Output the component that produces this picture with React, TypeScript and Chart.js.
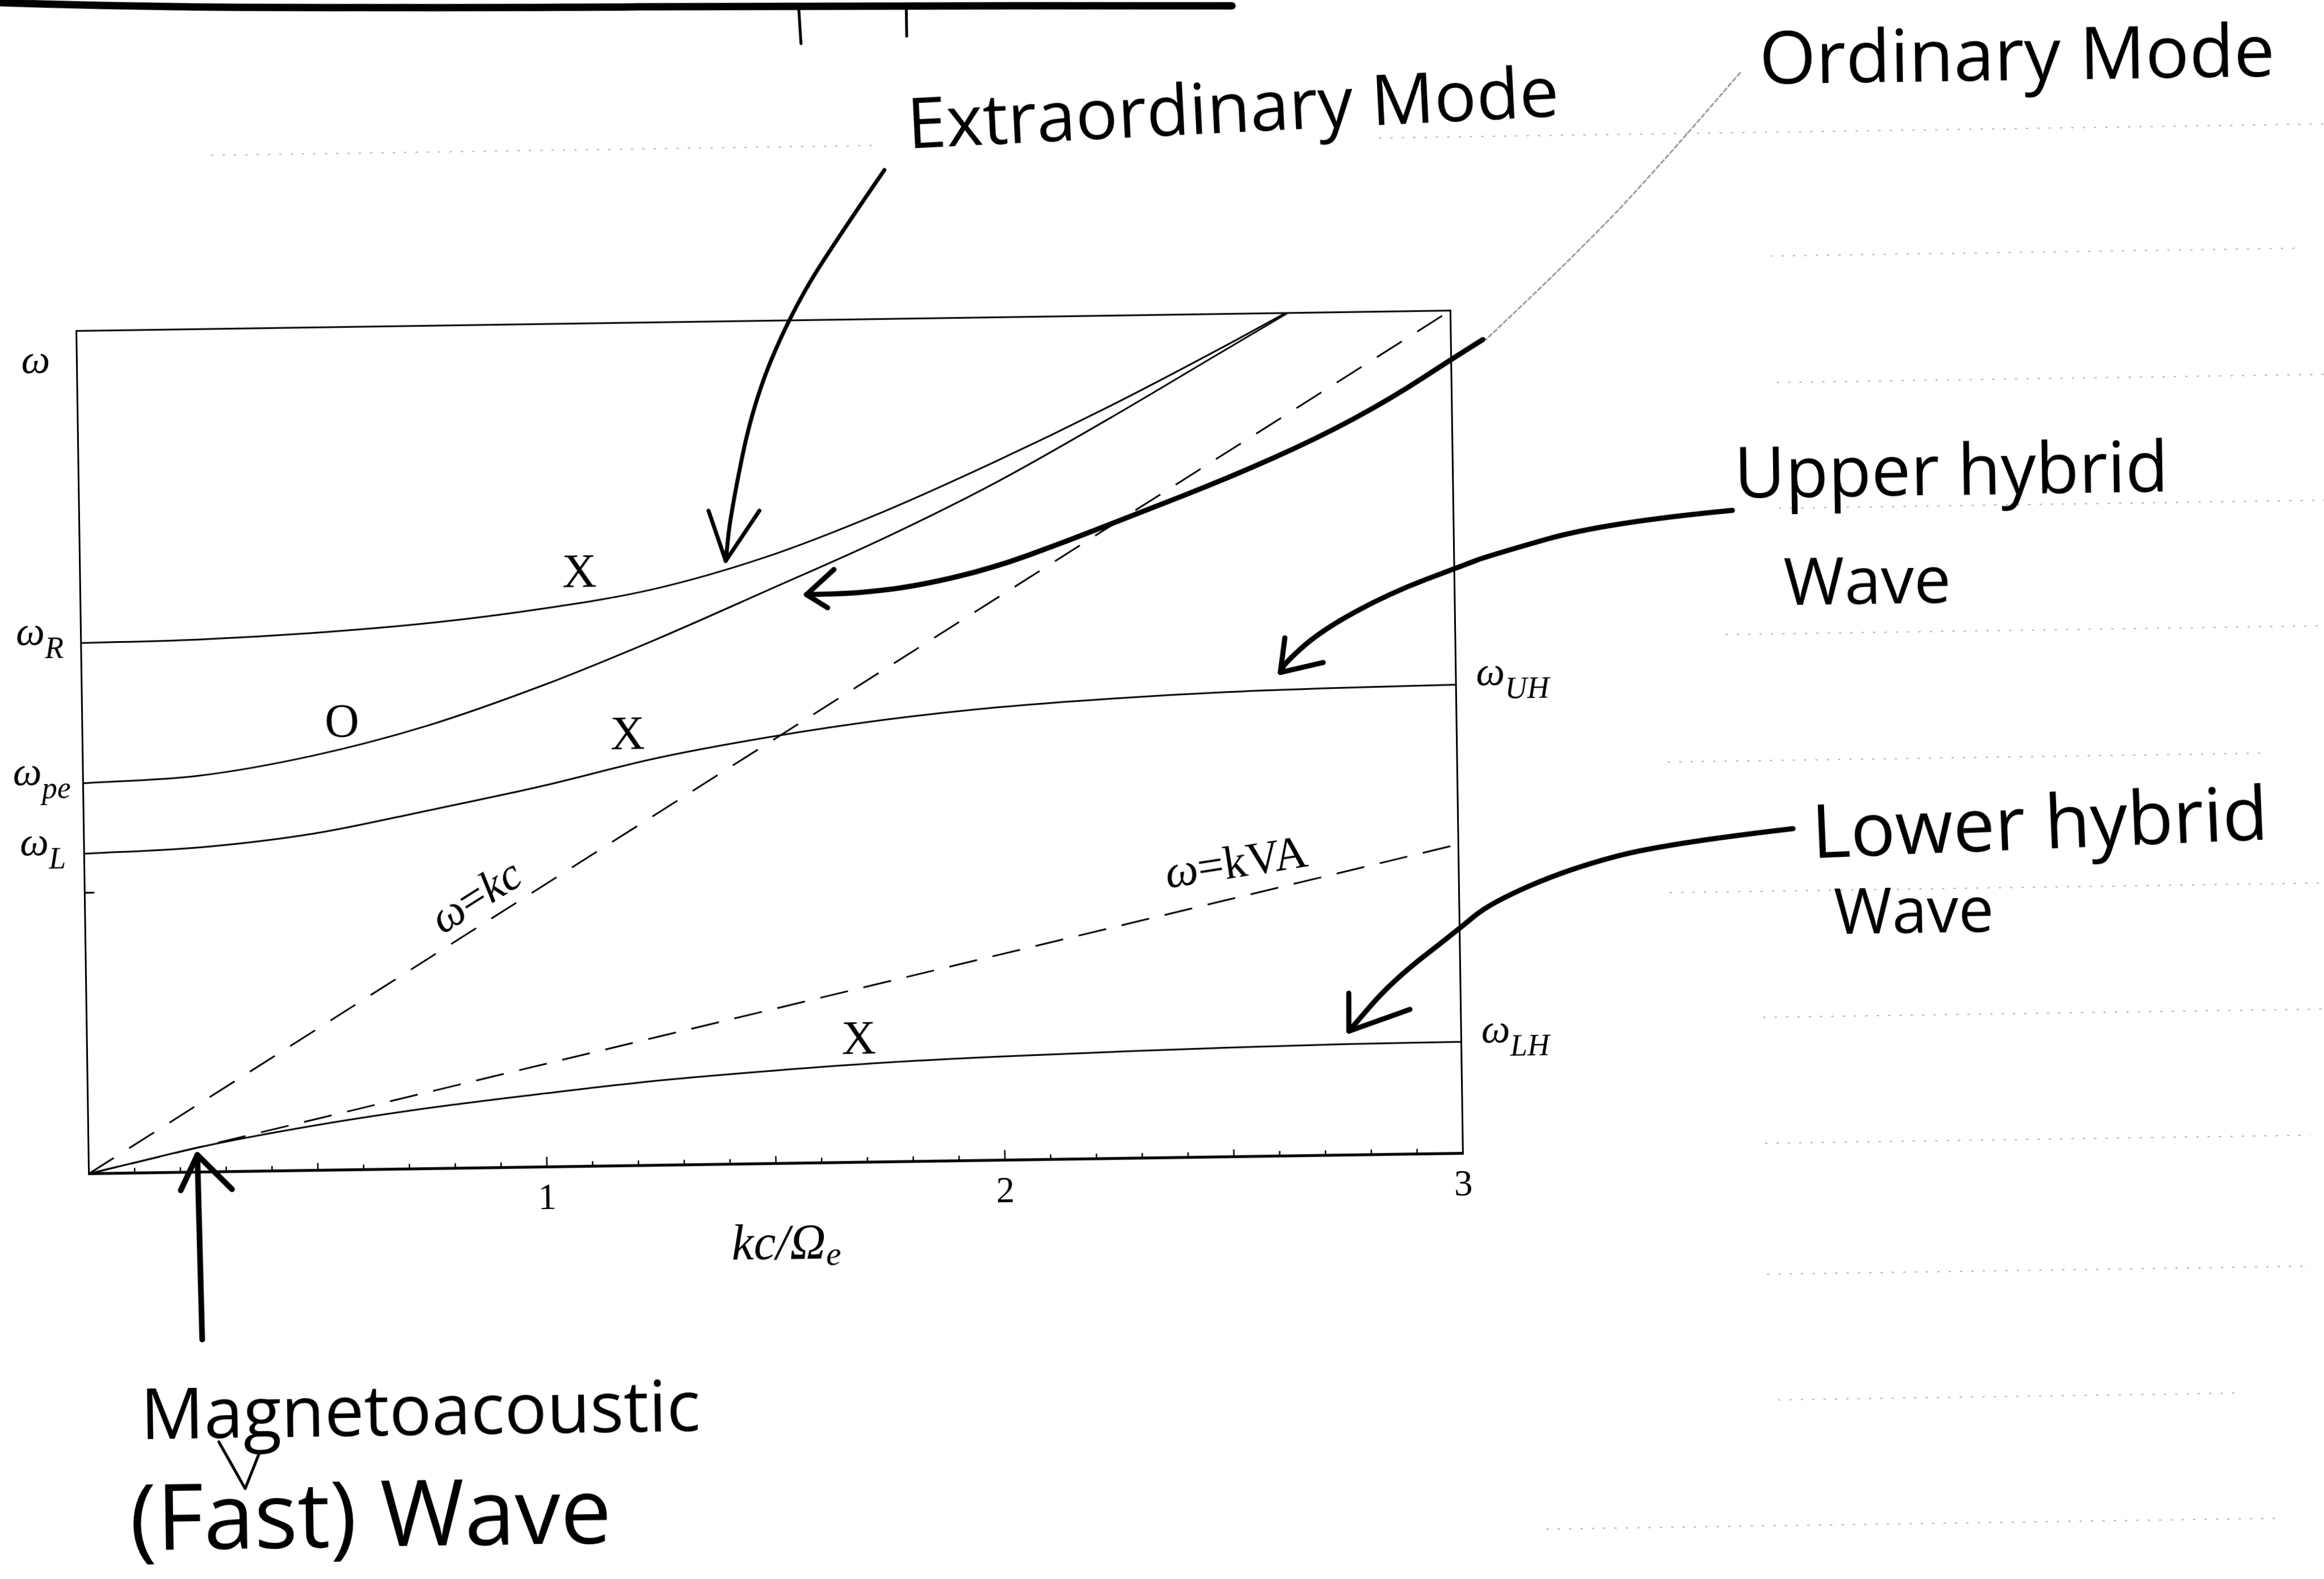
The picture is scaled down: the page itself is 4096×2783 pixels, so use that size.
import React, { useEffect, useRef } from "react";
import { Chart, registerables } from "chart.js";

Chart.register(...registerables);

// ---------------- Data (kc/Ω_e  ->  ω/Ω_e) ----------------
const kUpperX = [0, 0.25, 0.5, 0.75, 1.0, 1.25, 1.5, 1.75, 2.0, 2.25, 2.5, 2.64];
const wUpperX = [1.889, 1.895, 1.912, 1.94, 1.985, 2.05, 2.16, 2.31, 2.485, 2.675, 2.88, 3.0];

const kOrdinary = [0, 0.25, 0.5, 0.75, 1.0, 1.25, 1.5, 1.75, 2.0, 2.25, 2.5, 2.645];
const wOrdinary = [1.39, 1.41, 1.475, 1.575, 1.71, 1.868, 2.04, 2.215, 2.41, 2.632, 2.865, 3.0];

const kMiddleX = [0, 0.25, 0.5, 0.75, 1.0, 1.25, 1.5, 1.75, 2.0, 2.25, 2.5, 2.75, 3.0];
const wMiddleX = [1.139, 1.155, 1.198, 1.274, 1.355, 1.448, 1.518, 1.573, 1.612, 1.637, 1.654, 1.663, 1.668];

const kLowerX = [0, 0.1, 0.25, 0.5, 0.75, 1.0, 1.25, 1.5, 1.75, 2.0, 2.25, 2.5, 2.75, 3.0];
const wLowerX = [0, 0.037, 0.091, 0.161, 0.217, 0.262, 0.302, 0.331, 0.354, 0.369, 0.38, 0.389, 0.395, 0.397];

const kLightLine = [0, 3];
const wLightLine = [0, 3];
const kAlfvenLine = [0, 3];
const wAlfvenLine = [0, 1.1];

const xTickValues = [
  0, 0.1, 0.2, 0.3, 0.4, 0.5, 0.6, 0.7, 0.8, 0.9, 1.0, 1.1, 1.2, 1.3, 1.4, 1.5,
  1.6, 1.7, 1.8, 1.9, 2.0, 2.1, 2.2, 2.3, 2.4, 2.5, 2.6, 2.7, 2.8, 2.9, 3.0,
];
const xLabelValues = [1, 2, 3];

const leftLabelSubs = ["", "R", "pe", "L"];
const leftLabelValues = [2.857, 1.889, 1.39, 1.139];
const rightLabelSubs = ["UH", "LH"];
const rightLabelValues = [1.668, 0.397];
const cyclotronTick = 1.0;

const modeLabels = ["X", "O", "X", "X"];
const modeLabelK = [1.09, 0.567, 1.19, 1.685];
const modeLabelW = [2.106, 1.585, 1.526, 0.429];

// handwritten notes (text + anchor in data units)
const noteTexts = [
  "Extraordinary Mode",
  "Ordinary Mode",
  "Upper hybrid",
  "Wave",
  "Lower hybrid",
  "Wave",
  "Magnetoacoustic",
  "(Fast) Wave",
];
const noteK = [2.532, 4.245, 4.088, 3.901, 4.27, 3.992, 0.716, 0.604];
const noteW = [3.717, 3.864, 2.39, 2.0, 1.129, 0.825, -0.877, -1.248];

// handwritten arrows (data units)
const arrowExtraordinary = [[1.769, 3.53], [1.686, 3.34], [1.572, 3.062], [1.477, 2.722], [1.422, 2.314], [1.41, 2.147]];
const headExtraordinary = [[1.374, 2.327], [1.41, 2.147], [1.485, 2.324]];
const connectorOrdinary = [[3.64, 3.831], [3.429, 3.443], [3.253, 3.16], [3.077, 2.895]];
const arrowOrdinary = [[3.07, 2.895], [3.007, 2.833], [2.867, 2.689], [2.704, 2.551], [2.509, 2.415], [2.315, 2.297], [2.152, 2.197], [1.99, 2.106], [1.828, 2.048], [1.698, 2.025], [1.585, 2.023]];
const headOrdinary = [[1.646, 2.111], [1.585, 2.023], [1.631, 1.975]];
const arrowUpperHybrid = [[3.609, 2.274], [3.332, 2.238], [3.073, 2.124], [3.022, 2.094], [2.856, 1.996], [2.707, 1.867], [2.628, 1.756], [2.617, 1.721]];
const headUpperHybrid = [[2.628, 1.844], [2.617, 1.721], [2.711, 1.754]];
const arrowLowerHybrid = [[3.731, 1.138], [3.452, 1.092], [3.242, 1.008], [3.067, 0.889], [2.997, 0.796], [2.851, 0.617], [2.755, 0.441]];
const headLowerHybrid = [[2.756, 0.576], [2.755, 0.441], [2.889, 0.515]];
const arrowMagneto = [[0.242, -0.596], [0.2374, 0.061]];
const headMagneto = [[0.2, -0.064], [0.2374, 0.061], [0.312, -0.063]];
const caretMagneto = [[0.275, -0.961], [0.331, -1.129], [0.364, -0.999]];

// page header rule and notebook lines (data units)
const headerRule = [[-0.3, 4.185], [0.046, 4.152], [0.899, 4.128], [1.587, 4.119], [2.533, 4.096]];
const headerStrokes = [
  [[1.587, 4.119], [1.591, 3.984]],
  [[1.822, 4.116], [1.822, 4.005]],
];
const ruledW = [3.618, 3.618, 3.177, 2.727, 2.279, 1.832, 1.382, 0.917, 0.468, 0.02, -0.446, -0.894, -1.342];
const ruledFrom = [0.3, 2.85, 3.7, 3.71, 3.71, 3.59, 3.46, 3.46, 3.66, 3.66, 3.66, 3.68, 3.17];
const ruledTo = [1.75, 4.95, 4.85, 4.95, 4.95, 4.95, 4.76, 4.95, 4.95, 4.85, 4.85, 4.68, 4.78];

// ---------------- layout constants ----------------
const W = 4096;
const H = 2783;
const PAD = 140; // canvas overhang, so the slight page rotation never clips content
const CW = W + 2 * PAD;
const CH = H + 2 * PAD;
const AREA_LEFT = 145.5 + PAD;
const AREA_RIGHT = 2567.5 + PAD;
const AREA_TOP = 565.2 + PAD;
const AREA_BOTTOM = 2050.8 + PAD;
const X_AXIS_H = 200;

const SERIF = '"Liberation Serif", "DejaVu Serif", serif';
const HAND = '"Open Sans", "Noto Sans", sans-serif';

const pts = (ks: number[], ws: number[]) => ks.map((k, i) => ({ x: k, y: ws[i] }));

function drawRuns(ctx: CanvasRenderingContext2D, runs: { t: string; f: string; dy?: number }[], x: number, y: number, align: "left" | "center") {
  let total = 0;
  const widths = runs.map((r) => {
    ctx.font = r.f;
    const w = ctx.measureText(r.t).width;
    total += w;
    return w;
  });
  let cx = align === "center" ? x - total / 2 : x;
  ctx.textAlign = "left";
  runs.forEach((r, i) => {
    ctx.font = r.f;
    ctx.fillText(r.t, cx, y + (r.dy || 0));
    cx += widths[i];
  });
}

function smoothStroke(ctx: CanvasRenderingContext2D, p: number[][]) {
  ctx.beginPath();
  ctx.moveTo(p[0][0], p[0][1]);
  if (p.length === 2) {
    ctx.lineTo(p[1][0], p[1][1]);
  } else {
    for (let i = 1; i < p.length - 1; i++) {
      const mx = (p[i][0] + p[i + 1][0]) / 2;
      const my = (p[i][1] + p[i + 1][1]) / 2;
      ctx.quadraticCurveTo(p[i][0], p[i][1], mx, my);
    }
    const l = p[p.length - 1];
    ctx.lineTo(l[0], l[1]);
  }
  ctx.stroke();
}

function polyStroke(ctx: CanvasRenderingContext2D, p: number[][]) {
  ctx.beginPath();
  p.forEach((q, i) => (i === 0 ? ctx.moveTo(q[0], q[1]) : ctx.lineTo(q[0], q[1])));
  ctx.stroke();
}

const annotationPlugin = {
  id: "paperAnnotations",
  afterDatasetsDraw(chart: any) {
    const ctx: CanvasRenderingContext2D = chart.ctx;
    const xs = chart.scales.x;
    const ys = chart.scales.y;
    const { left, right, top, bottom } = chart.chartArea;
    ctx.save();
    ctx.strokeStyle = "#000";
    ctx.lineCap = "butt";
    // frame
    ctx.lineWidth = 3;
    ctx.beginPath();
    ctx.moveTo(left, bottom);
    ctx.lineTo(left, top);
    ctx.lineTo(right, top);
    ctx.lineTo(right, bottom);
    ctx.stroke();
    ctx.lineWidth = 5;
    ctx.beginPath();
    ctx.moveTo(left - 1.5, bottom);
    ctx.lineTo(right + 1.5, bottom);
    ctx.stroke();
    // inward ticks on the k axis, from the scale's own ticks
    ctx.lineWidth = 2.5;
    xs.ticks.forEach((t: any) => {
      const v = t.value;
      if (v <= 0 || v >= 3) return;
      const px = xs.getPixelForValue(v);
      const isInt = Math.abs(v - Math.round(v)) < 1e-6;
      const isHalf = Math.abs(v * 2 - Math.round(v * 2)) < 1e-6;
      const len = isInt ? 18 : isHalf ? 13 : 9;
      ctx.beginPath();
      ctx.moveTo(px, bottom);
      ctx.lineTo(px, bottom - len);
      ctx.stroke();
    });
    // Ω_e tick on the ω axis
    ctx.lineWidth = 3;
    const cy = ys.getPixelForValue(cyclotronTick);
    ctx.beginPath();
    ctx.moveTo(left, cy);
    ctx.lineTo(left + 17, cy);
    ctx.stroke();
    ctx.restore();
  },
  afterDraw(chart: any) {
    const ctx: CanvasRenderingContext2D = chart.ctx;
    const xs = chart.scales.x;
    const ys = chart.scales.y;
    const P = (q: number[]) => [xs.getPixelForValue(q[0]), ys.getPixelForValue(q[1])];
    ctx.save();
    ctx.fillStyle = "#000";
    ctx.strokeStyle = "#000";
    ctx.textBaseline = "alphabetic";

    // notebook ruled lines (faint)
    ctx.save();
    ctx.strokeStyle = "rgba(0,0,0,0.33)";
    ctx.lineWidth = 2;
    ctx.setLineDash([4, 16]);
    ruledW.forEach((w, i) => {
      polyStroke(ctx, [P([ruledFrom[i], w]), P([ruledTo[i], w])]);
    });
    ctx.restore();

    // ω labels
    const wFont = `italic 72px ${SERIF}`;
    const subFont = `italic 54px ${SERIF}`;
    leftLabelValues.forEach((v, i) => {
      const x = xs.getPixelForValue(-0.09);
      const y = ys.getPixelForValue(v) + 1.5;
      const runs: any[] = [{ t: "ω", f: wFont }];
      if (leftLabelSubs[i]) runs.push({ t: leftLabelSubs[i], f: subFont, dy: 24 });
      drawRuns(ctx, runs, x, y, "center");
    });
    rightLabelValues.forEach((v, i) => {
      const x = xs.getPixelForValue(3.044);
      const y = ys.getPixelForValue(v) + 1.5;
      drawRuns(ctx, [{ t: "ω", f: wFont }, { t: rightLabelSubs[i], f: subFont, dy: 24 }], x, y, "left");
    });

    // axis title kc/Ω_e
    ctx.textBaseline = "middle";
    drawRuns(
      ctx,
      [
        { t: "kc/Ω", f: `italic 88px ${SERIF}` },
        { t: "e", f: `italic 60px ${SERIF}`, dy: 20 },
      ],
      xs.getPixelForValue(1.52),
      ys.getPixelForValue(-0.292),
      "center"
    );

    // mode labels X / O
    ctx.font = `84px ${SERIF}`;
    ctx.textAlign = "center";
    modeLabels.forEach((s, i) => {
      ctx.fillText(s, xs.getPixelForValue(modeLabelK[i]), ys.getPixelForValue(modeLabelW[i]));
    });

    // ω = kc label along the light line
    const a0 = P([kLightLine[0], wLightLine[0]]);
    const a1 = P([kLightLine[1], wLightLine[1]]);
    const ang = Math.atan2(a1[1] - a0[1], a1[0] - a0[0]);
    ctx.save();
    ctx.translate(xs.getPixelForValue(0.857), ys.getPixelForValue(0.959));
    ctx.rotate(ang);
    drawRuns(
      ctx,
      [
        { t: "ω", f: `italic 80px ${SERIF}` },
        { t: "=", f: `80px ${SERIF}` },
        { t: "kc", f: `italic 80px ${SERIF}` },
      ],
      0,
      0,
      "center"
    );
    ctx.restore();

    // ω = kVA label
    ctx.save();
    ctx.translate(xs.getPixelForValue(2.515), ys.getPixelForValue(1.038));
    ctx.rotate((-8 * Math.PI) / 180);
    drawRuns(
      ctx,
      [
        { t: "ω", f: `italic 82px ${SERIF}` },
        { t: "=kVA", f: `82px ${SERIF}` },
      ],
      0,
      0,
      "center"
    );
    ctx.restore();

    // header rule of the notebook page
    ctx.lineCap = "round";
    ctx.lineJoin = "round";
    ctx.lineWidth = 13;
    smoothStroke(ctx, headerRule.map(P));
    ctx.lineWidth = 5;
    headerStrokes.forEach((s) => polyStroke(ctx, s.map(P)));

    // handwritten arrows
    ctx.lineWidth = 7;
    smoothStroke(ctx, arrowExtraordinary.map(P));
    polyStroke(ctx, headExtraordinary.map(P));

    ctx.save();
    ctx.strokeStyle = "rgba(0,0,0,0.4)";
    ctx.lineWidth = 3;
    ctx.setLineDash([7, 5]);
    smoothStroke(ctx, connectorOrdinary.map(P));
    ctx.restore();

    ctx.lineWidth = 9;
    smoothStroke(ctx, arrowOrdinary.map(P));
    polyStroke(ctx, headOrdinary.map(P));
    smoothStroke(ctx, arrowUpperHybrid.map(P));
    polyStroke(ctx, headUpperHybrid.map(P));
    smoothStroke(ctx, arrowLowerHybrid.map(P));
    polyStroke(ctx, headLowerHybrid.map(P));
    ctx.lineWidth = 10;
    smoothStroke(ctx, arrowMagneto.map(P));
    polyStroke(ctx, headMagneto.map(P));
    ctx.lineWidth = 5;
    polyStroke(ctx, caretMagneto.map(P));

    // handwritten notes (font size fitted to the handwritten width)
    const noteWidth = [1150, 909, 765, 295, 805, 282, 987, 849];
    const noteRot = [-2, 0, 0, 0, -1.5, 0, 0, 0];
    ctx.textAlign = "center";
    ctx.textBaseline = "middle";
    noteTexts.forEach((s, i) => {
      ctx.font = `400 100px ${HAND}`;
      const m = ctx.measureText(s).width;
      const size = (100 * noteWidth[i]) / m;
      ctx.font = `400 ${size.toFixed(1)}px ${HAND}`;
      ctx.save();
      ctx.translate(xs.getPixelForValue(noteK[i]), ys.getPixelForValue(noteW[i]));
      ctx.rotate((noteRot[i] * Math.PI) / 180);
      ctx.fillText(s, 0, 0);
      ctx.restore();
    });

    ctx.restore();
  },
};

export default function App() {
  const ref = useRef<HTMLCanvasElement>(null);
  useEffect(() => {
    const canvas = ref.current;
    if (!canvas) return;
    const curve = (ks: number[], ws: number[], extra: any = {}) => ({
      data: pts(ks, ws),
      showLine: true,
      borderColor: "#000",
      backgroundColor: "#000",
      borderWidth: 3,
      pointRadius: 0,
      fill: false,
      cubicInterpolationMode: "monotone",
      ...extra,
    });
    const chart = new Chart(canvas, {
      type: "scatter",
      data: {
        datasets: [
          curve(kUpperX, wUpperX),
          curve(kOrdinary, wOrdinary),
          curve(kMiddleX, wMiddleX),
          curve(kLowerX, wLowerX),
          curve(kLightLine, wLightLine, { borderDash: [52, 32], borderWidth: 3 }),
          curve(kAlfvenLine, wAlfvenLine, { borderDash: [50, 28], borderWidth: 3 }),
        ],
      },
      options: {
        animation: false,
        responsive: false,
        devicePixelRatio: 1,
        events: [],
        layout: {
          padding: {
            left: AREA_LEFT,
            right: CW - AREA_RIGHT,
            top: AREA_TOP,
            bottom: CH - AREA_BOTTOM - X_AXIS_H,
          },
        },
        plugins: {
          legend: { display: false },
          tooltip: { enabled: false },
          title: { display: false },
        },
        scales: {
          x: {
            type: "linear",
            position: "bottom",
            min: 0,
            max: 3,
            grid: { display: false, drawTicks: false },
            border: { display: false },
            afterBuildTicks: (s: any) => {
              s.ticks = xTickValues.map((v) => ({ value: v }));
            },
            afterFit: (s: any) => {
              s.height = X_AXIS_H;
            },
            ticks: {
              autoSkip: false,
              maxRotation: 0,
              minRotation: 0,
              padding: 18,
              color: "#000",
              font: { family: "Liberation Serif", size: 65 },
              callback: (v: any) => {
                const n = Number(v);
                return xLabelValues.some((q) => Math.abs(q - n) < 1e-6) ? String(Math.round(n)) : "";
              },
            },
          },
          y: {
            type: "linear",
            min: 0,
            max: 3,
            display: false,
          },
        },
      },
      plugins: [annotationPlugin],
    } as any);
    return () => chart.destroy();
  }, []);
  return (
    <div
      style={{
        position: "fixed",
        left: 0,
        top: 0,
        width: W,
        height: H,
        overflow: "hidden",
        background: "#fff",
      }}
    >
      <canvas
        ref={ref}
        width={CW}
        height={CH}
        style={{
          position: "absolute",
          left: -PAD,
          top: -PAD,
          width: CW,
          height: CH,
          transform: "rotate(-0.85deg)",
          transformOrigin: `${1356.5 + PAD}px ${1308 + PAD}px`,
        }}
      />
    </div>
  );
}
